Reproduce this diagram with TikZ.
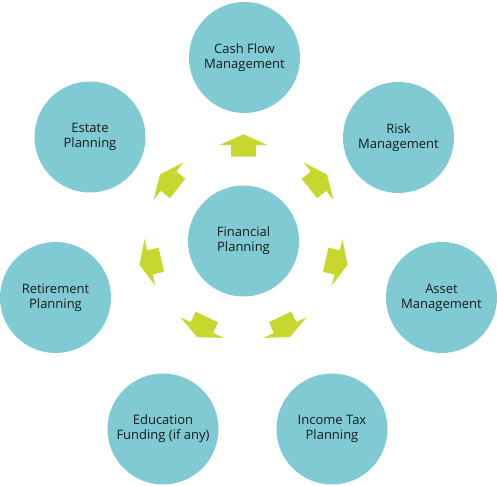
\documentclass[tikz,border=0pt]{standalone}
\usepackage{fontspec}
\setmainfont{Open Sans}
\definecolor{circ}{HTML}{7FCAD3}
\definecolor{arr}{HTML}{C8D72D}
\definecolor{txt}{HTML}{1A1A1A}
\begin{document}
\begin{tikzpicture}[x=1pt,y=-1pt,
  bubble/.style={circle,fill=circ,minimum size=111pt,inner sep=0pt,align=center,
    font=\fontsize{13}{15}\selectfont,text=txt},
  blockarrow/.pic={\fill[arr] (10.7,0) -- (0,24) -- (0,12.4) -- (-11.7,12.4)
    -- (-11.7,-12.4) -- (0,-12.4) -- (0,-24) -- cycle;}]
\useasboundingbox (0,0) rectangle (497,485);
\node[bubble] (fp) at (243.5,241) {Financial\\Planning};
\node[bubble] (cash) at (244.5,57.5) {Cash Flow\\Management};
\node[bubble] (risk) at (398.5,137.5) {Risk\\Management};
\node[bubble] (asset) at (441.5,297.5) {Asset\\Management};
\node[bubble] (tax) at (332,429) {Income Tax\\Planning};
\node[bubble] (edu) at (163,429) {Education\\Funding (if any)};
\node[bubble] (ret) at (55.5,297.5) {Retirement\\Planning};
\node[bubble] (est) at (90,137) {Estate\\Planning};
\foreach \a/\r in {-90/90,-38.571/38.571,12.857/-12.857,64.286/-64.286,
                   115.714/-115.714,167.143/-167.143,218.571/-218.571}
  \pic[rotate=\r] at ([shift={(\a:96)}]fp.center) {blockarrow};
\end{tikzpicture}
\end{document}
